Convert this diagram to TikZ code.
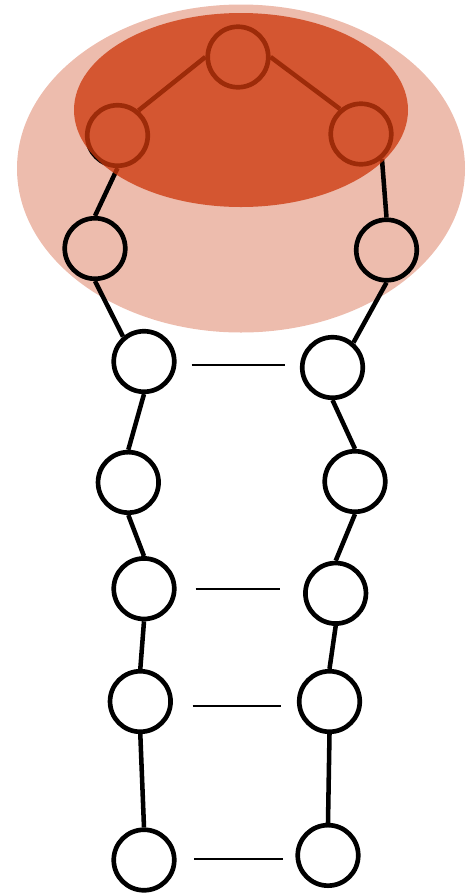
\documentclass[tikz,border=0pt]{standalone}
\definecolor{haloLight}{RGB}{237,188,173}
\definecolor{haloDark}{RGB}{205,56,12}
\tikzset{
  bead/.style={circle, draw=black, line width=3.5pt, minimum size=45.4pt, inner sep=0pt},
  bond/.style={draw=black, line width=3.4pt},
  pairing/.style={draw=black, line width=1.5pt},
}
\begin{document}
\begin{tikzpicture}[x=0.75pt, y=-0.75pt]
  \useasboundingbox (0,0) rectangle (465,894);
  \clip (0,0) rectangle (465,894);

  % pale halo behind the upper part of the chain
  \fill[haloLight] (241,168.5) ellipse [x radius=224, y radius=164];

  % beads, left strand
  \node[bead] (t)  at (238,57) {};
  \node[bead] (l1) at (117.5,135.5) {};
  \node[bead] (l2) at (95,248.5) {};
  \node[bead] (l3) at (144,361.5) {};
  \node[bead] (l4) at (128.3,482.4) {};
  \node[bead] (l5) at (144,588.7) {};
  \node[bead] (l6) at (140.3,701.5) {};
  \node[bead] (l7) at (144,860) {};
  % beads, right strand
  \node[bead] (r1) at (361,134) {};
  \node[bead] (r2) at (386.5,250) {};
  \node[bead] (r3) at (332.5,367.5) {};
  \node[bead] (r4) at (355,481.5) {};
  \node[bead] (r5) at (335.7,593.3) {};
  \node[bead] (r6) at (329.5,701.5) {};
  \node[bead] (r7) at (328,855.4) {};

  % backbone bonds
  \draw[bond] (t.west) -- (l1.50);
  \draw[bond] (t.east) -- (r1.130);
  \draw[bond] (l1.south) -- (l2.north);
  \draw[bond] (r1.-50) -- (r2.north);
  \draw[bond] (l2.south) -- (l3.130);
  \draw[bond] (r2.south) -- (r3.50);
  \draw[bond] (l3.south) -- (l4.north);
  \draw[bond] (r3.south) -- (r4.north);
  \draw[bond] (l4.south) -- (l5.north);
  \draw[bond] (r4.south) -- (r5.north);
  \draw[bond] (l5.south) -- (l6.north);
  \draw[bond] (r5.south) -- (r6.north);
  \draw[bond] (l6.south) -- (l7.north);
  \draw[bond] (r6.south) -- (r7.north);

  % base-pair contacts across the stem
  \coordinate (p1a) at (191.7,365); \coordinate (p1b) at (284.7,365);
  \coordinate (p2a) at (195.7,589.3); \coordinate (p2b) at (280,589.3);
  \coordinate (p3a) at (192.7,705.7); \coordinate (p3b) at (281.3,705.7);
  \coordinate (p4a) at (194,859); \coordinate (p4b) at (283,859);
  \draw[pairing] (p1a) -- (p1b);
  \draw[pairing] (p2a) -- (p2b);
  \draw[pairing] (p3a) -- (p3b);
  \draw[pairing] (p4a) -- (p4b);

  % dense translucent core over the loop
  \fill[haloDark, fill opacity=0.77] (241,110) ellipse [x radius=167, y radius=97];
\end{tikzpicture}
\end{document}
